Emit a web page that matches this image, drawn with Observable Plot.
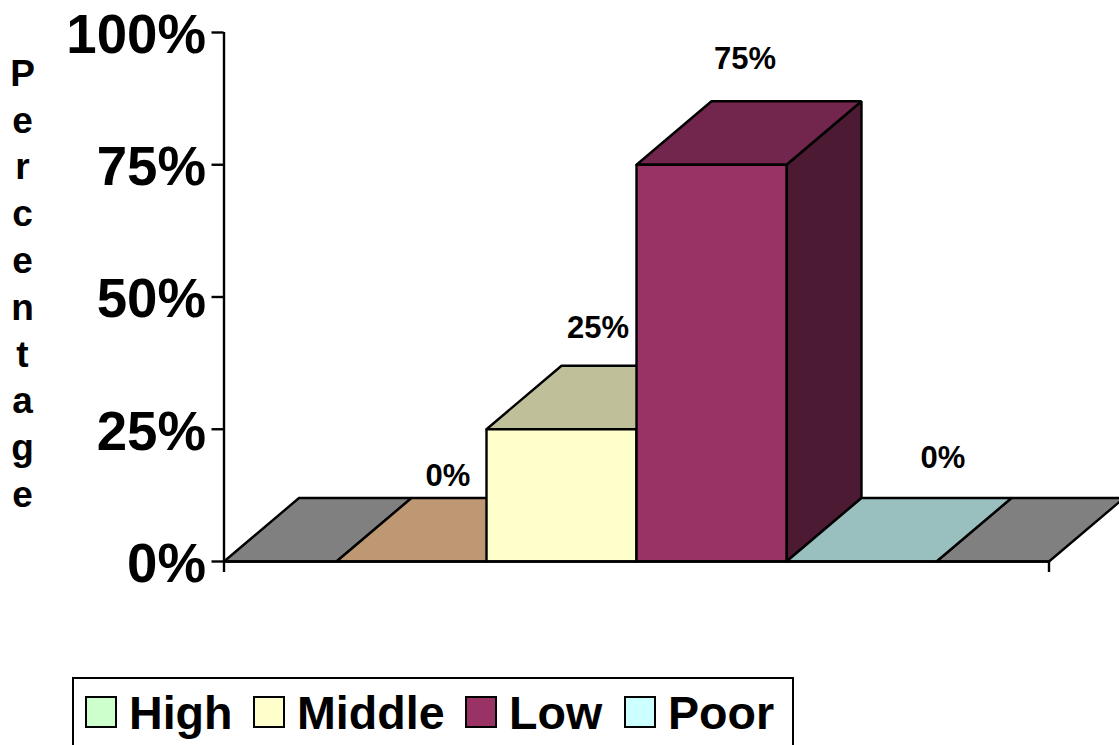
<!DOCTYPE html>
<html>
<head>
<meta charset="utf-8">
<script src="https://cdn.jsdelivr.net/npm/d3@7"></script>
<script src="https://cdn.jsdelivr.net/npm/@observablehq/plot@0.6"></script>
<style>
  html, body { margin: 0; padding: 0; background: #fff; overflow: hidden; }
  #page { position: relative; width: 1119px; height: 745px; overflow: hidden; font-family: "Liberation Sans", Arial, sans-serif; }
  #page svg { display: block; }
  .legend { position: absolute; left: 71.5px; top: 676.5px; box-sizing: border-box; width: 722px; height: 100px; border: 2px solid #000; }
  .entry { position: absolute; top: 18.5px; display: flex; align-items: center; height: 32px; font-size: 46.6px; font-weight: 700; color: #000; }
  .swatch { box-sizing: border-box; width: 32px; height: 32px; border: 2px solid #000; margin-right: 12px; transform: translateY(-1px); }
</style>
</head>
<body>
<div id="page"></div>
<script>
// Share of respondents per income group
const categories = ["High", "Middle", "Low", "Poor"];
const percentages = [0, 25, 75, 0];
const yTicks = [0, 25, 50, 75, 100];

// Face colours per group: legend/front, top, side
const frontColors = ["#CCFFCC", "#FFFFCC", "#993366", "#CCFFFF"];
const topColors = ["#BE9873", "#BFBF99", "#73264D", "#99BFBF"];
const sideColors = ["#99BF99", "#808066", "#4D1A33", "#739090"];
const floorColor = "#808080";

// Extrusion of the pseudo-3D bars, in axis units
const depthX = 0.5;
const depthY = 12;
const gap = 0.75;
const xMax = categories.length + 2 * gap;

const faces = [];
const addFace = (id, fill, points) => {
  [...points, points[0]].forEach(([x, y]) => faces.push({id, fill, x, y}));
};
const addTop = (id, fill, x0, x1, v) => addFace(id, fill, [
  [x0, v], [x1, v], [x1 + depthX, v + depthY], [x0 + depthX, v + depthY]
]);

// The uncovered floor on both sides of the bars
addTop("floor-left", floorColor, 0, gap, 0);
addTop("floor-right", floorColor, xMax - gap, xMax, 0);

// Bars are painted left to right so each one covers the back of its left neighbour
categories.forEach((c, i) => {
  const x0 = gap + i, x1 = x0 + 1, v = percentages[i];
  if (v > 0) {
    addFace(`${c}-side`, sideColors[i], [
      [x1, 0], [x1 + depthX, depthY], [x1 + depthX, v + depthY], [x1, v]
    ]);
  }
  addTop(`${c}-top`, topColors[i], x0, x1, v);
  if (v > 0) {
    addFace(`${c}-front`, frontColors[i], [[x0, 0], [x1, 0], [x1, v], [x0, v]]);
  }
});

// Value labels sit loosely above each bar
const labelNudges = [[36.5, -85], [36.5, -100.75], [33.5, -105.5], [81.5, -103]];
const valueLabels = categories.map((c, i) =>
  Plot.text([i], {
    x: (d) => gap + d + 0.5,
    y: (d) => percentages[d],
    text: (d) => `${percentages[d]}%`,
    dx: labelNudges[i][0],
    dy: labelNudges[i][1],
    fontSize: 31,
    fontWeight: 700,
    fill: "#000"
  })
);

const chart = Plot.plot({
  width: 1119,
  height: 677,
  marginTop: 32,
  marginLeft: 223.5,
  marginRight: 70.5,
  marginBottom: 116,
  style: {fontFamily: '"Liberation Sans", Arial, sans-serif', color: "#000", background: "#fff"},
  x: {domain: [0, xMax]},
  y: {domain: [0, 100]},
  color: {type: "identity"},
  marks: [
    Plot.line(faces, {
      x: "x",
      y: "y",
      z: "id",
      fill: "fill",
      stroke: "#000",
      strokeWidth: 2.4,
      strokeLinejoin: "miter"
    }),
    Plot.ruleY([0], {stroke: "#000", strokeWidth: 2.4}),
    Plot.ruleX([0], {y1: 0, y2: 100, stroke: "#000", strokeWidth: 2.4}),
    Plot.axisY({
      ticks: yTicks,
      tickSize: 12,
      tickPadding: 6,
      tickFormat: (d) => `${d}%`,
      label: null,
      fontSize: 54.6,
      fontWeight: 700,
      strokeWidth: 2.4,
      textStroke: null
    }),
    Plot.axisX({
      ticks: [0, xMax],
      tickSize: 11,
      tickFormat: () => "",
      label: null,
      strokeWidth: 2.4
    }),
    ...valueLabels,
    // Axis title, stacked one letter per line
    Plot.text(["Percentage".split("").join("\n")], {
      frameAnchor: "top-left",
      textAnchor: "middle",
      lineAnchor: "top",
      lineHeight: 1.265,
      dx: -201.5,
      dy: 20,
      fontSize: 37,
      fontWeight: 700,
      fill: "#000"
    })
  ]
});

// Shift the percent tick labels slightly below their ticks
chart.querySelectorAll('g[aria-label="y-axis tick label"] text').forEach((t) => {
  t.setAttribute("dy", "3");
});

const page = document.getElementById("page");
page.append(chart);

// Legend box, open past the bottom of the page
const legendLeft = [14, 182, 394, 553];
const legend = document.createElement("div");
legend.className = "legend";
categories.forEach((c, i) => {
  const entry = document.createElement("div");
  entry.className = "entry";
  entry.style.left = `${legendLeft[i] - 2.5}px`;
  const swatch = document.createElement("span");
  swatch.className = "swatch";
  swatch.style.background = frontColors[i];
  entry.append(swatch, document.createTextNode(c));
  legend.append(entry);
});
page.append(legend);
</script>
</body>
</html>
